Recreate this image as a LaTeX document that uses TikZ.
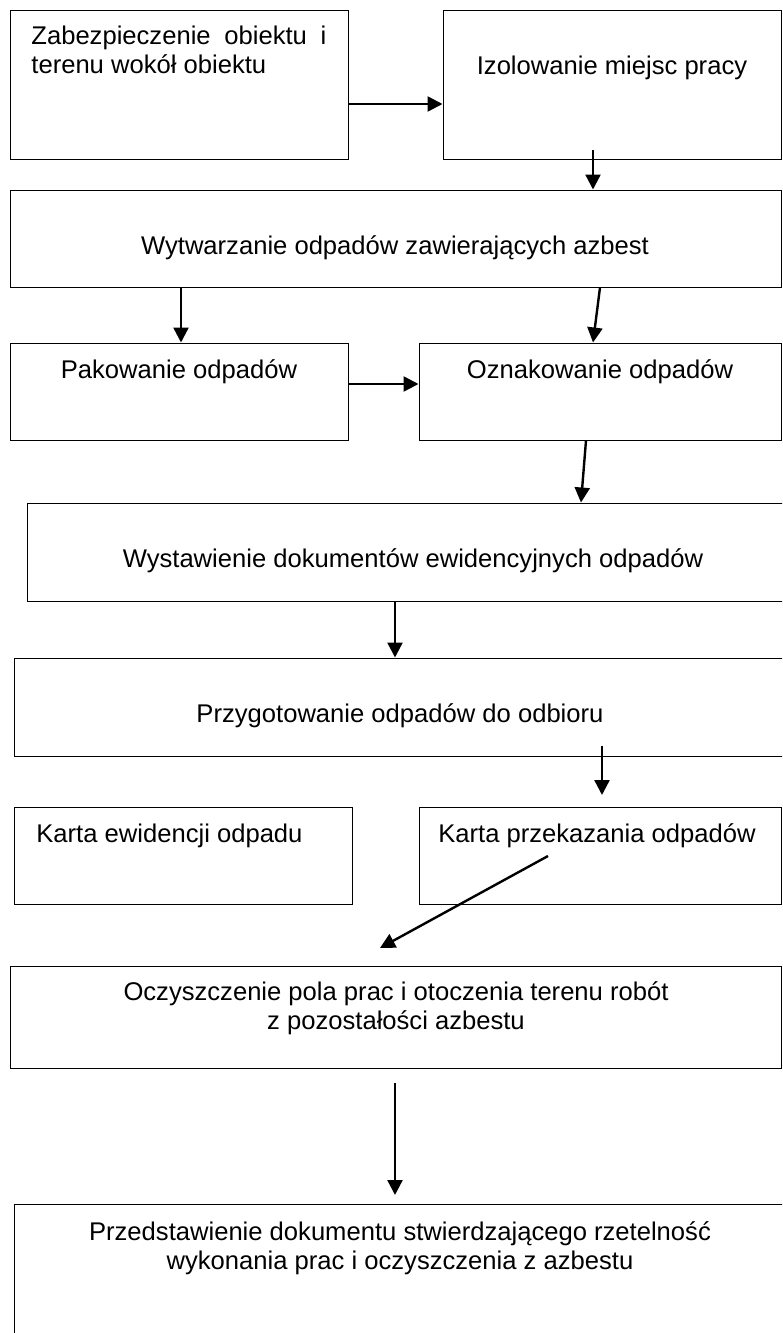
\documentclass[tikz,border=0pt]{standalone}
\usepackage{fontspec}
\setmainfont{Liberation Sans}
\usetikzlibrary{arrows.meta,fit}
\begin{document}
\begin{tikzpicture}[x=0.5pt,y=-0.5pt,
	box/.style={draw,line width=0.5pt,inner sep=0pt},
	txt/.style={anchor=base,inner sep=0pt,align=center,
	  font=\fontsize{12.8}{14.5}\selectfont},
	arr/.style={line width=1.2pt,-{Triangle[length=7.5pt,width=7.5pt]}}]
	\clip (0,0) rectangle (782,1333);
	\node[box,fit={(10,10) (348,159)}] (zab) {};
	\node[box,fit={(443,10) (781,159)}] (izo) {};
	\node[box,fit={(10,190) (781,287)}] (wyt) {};
	\node[box,fit={(10,343) (348,440)}] (pak) {};
	\node[box,fit={(419,343) (781,440)}] (ozn) {};
	\node[box,fit={(27,503) (795,601)}] (wys) {};
	\node[box,fit={(14,658) (795,756)}] (prz) {};
	\node[box,fit={(14,807) (352,904)}] (kew) {};
	\node[box,fit={(419,807) (781,904)}] (kpo) {};
	\node[box,fit={(10,966) (781,1068)}] (ocz) {};
	\node[box,fit={(14,1204) (795,1345)}] (pdk) {};
	\node[txt,anchor=base west,align=left] (tzab) at (31,73)
	  {\makebox[147.5pt][s]{Zabezpieczenie obiektu i}\\terenu wokół obiektu};
	\node[txt] (tizo) at (612,74) {Izolowanie miejsc pracy};
	\node[txt] (twyt) at (395,254) {Wytwarzanie odpadów zawierających azbest};
	\node[txt] (tpak) at (179,378) {Pakowanie odpadów};
	\node[txt] (tozn) at (600,378) {Oznakowanie odpadów};
	\node[txt] (twys) at (413,567) {Wystawienie dokumentów ewidencyjnych odpadów};
	\node[txt] (tprz) at (400,722) {Przygotowanie odpadów do odbioru};
	\node[txt,anchor=base west] (tkew) at (36,842) {Karta ewidencji odpadu};
	\node[txt] (tkpo) at (597,842) {Karta przekazania odpadów};
	\node[txt] (tocz) at (396,1029)
	  {Oczyszczenie pola prac i otoczenia terenu robót\\z pozostałości azbestu};
	\node[txt] (tpdk) at (400,1269)
	  {Przedstawienie dokumentu stwierdzającego rzetelność\\wykonania prac i oczyszczenia z azbestu};
	\coordinate (s1) at (593,150);
	\coordinate (s2) at (602,746); \coordinate (e2) at (602,795);
	\coordinate (s3) at (548,856); \coordinate (e3) at (380,948);
	\coordinate (s4) at (395,1083); \coordinate (e4) at (395,1195);
	\draw[arr] (zab.east |- 0,104) -- (izo.west |- 0,104);
	\draw[arr] (s1) -- (wyt.north -| s1);
	\draw[arr] (wyt.south -| 181,0) -- (pak.north -| 181,0);
	\draw[arr] (wyt.south -| 600,0) -- (ozn.north -| 593,0);
	\draw[arr] (pak.east |- 0,384) -- (ozn.west |- 0,384);
	\draw[arr] (ozn.south -| 586,0) -- (wys.north -| 581,0);
	\draw[arr] (wys.south -| 395,0) -- (prz.north -| 395,0);
	\draw[arr] (s2) -- (e2);
	\draw[arr] (s3) -- (e3);
	\draw[arr] (s4) -- (e4);
\end{tikzpicture}
\end{document}
